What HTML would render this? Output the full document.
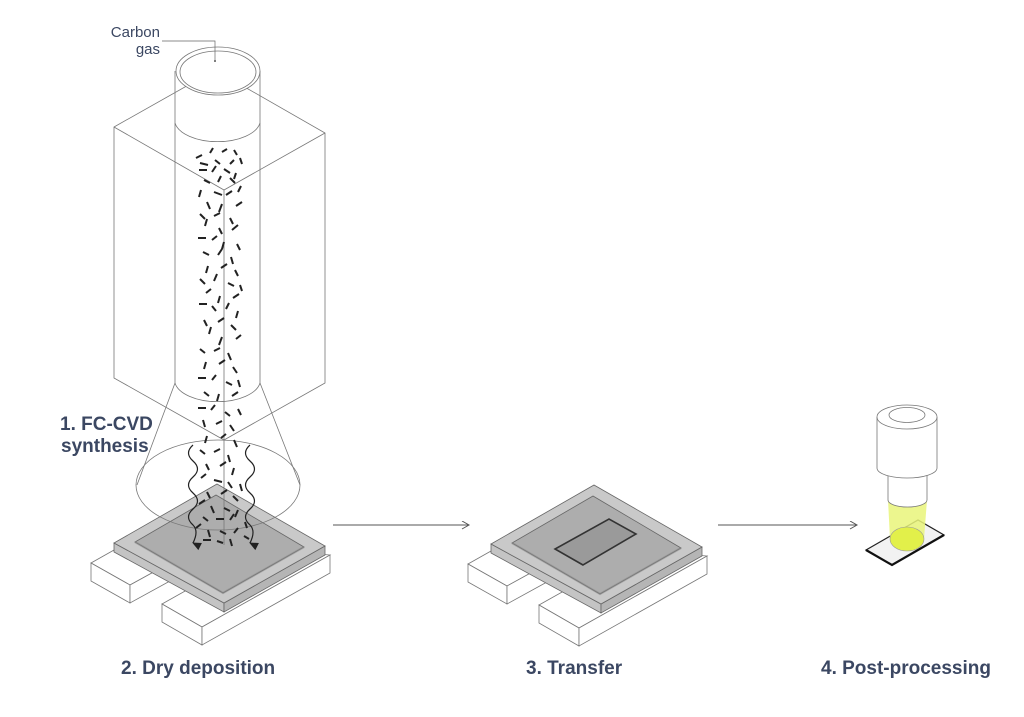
<!DOCTYPE html>
<html><head><meta charset="utf-8"><style>
html,body{margin:0;padding:0;background:#fff;}
svg{display:block;}
text{font-family:"Liberation Sans",sans-serif;fill:#3b4762;}
.b{font-weight:bold;font-size:19px;}
</style></head><body>
<svg width="1024" height="717" viewBox="0 0 1024 717" xmlns="http://www.w3.org/2000/svg">
<defs>
<marker id="ah" markerWidth="10" markerHeight="10" refX="8" refY="4" orient="auto" markerUnits="userSpaceOnUse">
<path d="M1 0 L8 4 L1 8" fill="none" stroke="#555" stroke-width="1"/></marker>
<marker id="ab" markerWidth="10" markerHeight="10" refX="4" refY="8" orient="auto-start-reverse" markerUnits="userSpaceOnUse">
<path d="M0 0 L4 9 L8 0 Z" fill="#222"/></marker>
<g id="stage">
 <polygon points="91,563 130,541 170,563 130,585" fill="#fff" stroke="#777" stroke-width="0.8"/>
 <polygon points="91,563 130,585 130,603 91,581" fill="#fff" stroke="#777" stroke-width="0.8"/>
 <polygon points="130,585 170,563 170,581 130,603" fill="#fff" stroke="#777" stroke-width="0.8"/>
 <polygon points="162,604 260,549 330,555 202,627" fill="#fff" stroke="#777" stroke-width="0.8"/>
 <polygon points="162,604 202,627 202,645 162,622" fill="#fff" stroke="#777" stroke-width="0.8"/>
 <polygon points="202,627 330,555 330,573 202,645" fill="#fff" stroke="#777" stroke-width="0.8"/>
 <polygon points="114,543 224,603 224,612 114,552" fill="#c4c4c4" stroke="#666" stroke-width="0.8"/>
 <polygon points="224,603 325,546 325,555 224,612" fill="#b5b5b5" stroke="#666" stroke-width="0.8"/>
 <polygon points="217,484 325,546 224,603 114,543" fill="#c9c9c9" stroke="#666" stroke-width="0.8"/>
 <polygon points="216,495 304,547 223,593 135,542" fill="#adadad" stroke="#666" stroke-width="0.8"/>
 <polyline points="135,542 223,593 304,547" fill="none" stroke="#888" stroke-width="2.2" opacity="0.5"/>
</g>
</defs>

<use href="#stage"/>
<use href="#stage" transform="translate(377,1)"/>
<polygon points="583,565 555,549 609,519 636,534" fill="#9a9a9a" stroke="#333" stroke-width="1.6"/>

<g fill="none" stroke="#777" stroke-width="0.8">
 <polyline points="215,70 114,127 114,378 224,440 325,383 325,133 215,70"/>
 <polyline points="114,127 224,190 325,133"/>
 <line x1="224" y1="190" x2="224" y2="545"/>
</g>
<g fill="none" stroke="#777" stroke-width="0.8">
 <path d="M175 383 V71 M260 71 V383"/>
 <ellipse cx="218" cy="71" rx="42" ry="24" fill="#fff"/>
 <ellipse cx="218" cy="72" rx="38" ry="21"/>
 <path d="M175 123 A43 22 0 0 0 260 123"/>
 <path d="M175 383 A43 22 0 0 0 260 383"/>
 <line x1="175" y1="383" x2="137" y2="485"/>
 <line x1="260" y1="383" x2="300" y2="485"/>
 <ellipse cx="218" cy="485" rx="82" ry="45"/>
</g>
<text x="160" y="37" font-size="15" text-anchor="end">Carbon</text>
<text x="160" y="54" font-size="15" text-anchor="end">gas</text>
<polyline points="162,41 215,41 215,60" fill="none" stroke="#666" stroke-width="0.7"/>
<circle cx="215" cy="61" r="1" fill="#555"/>

<path stroke="#222" stroke-width="2" fill="none" d="
M196 158l6 -3 M210 153l3 -5 M222 152l5 -3 M234 150l3 5 M200 163l8 2 M215 160l5 4 M230 164l4 -4 M240 158l2 6
M199 170l8 0 M212 172l4 -6 M224 169l6 4 M236 173l-2 6 M204 180l6 3 M218 182l3 -6 M230 178l5 5
M201 190l-2 7 M214 192l8 3 M226 195l6 -4 M238 192l3 -6 M207 202l3 7 M222 204l-3 8 M236 206l6 -4
M200 214l5 5 M214 216l6 -3 M230 218l3 6 M205 226l2 -7 M219 228l3 6 M232 230l6 -5 M198 238l8 0
M212 240l5 -4 M224 242l-2 7 M237 244l3 6 M203 252l6 3 M218 255l4 -6 M231 257l2 7 M208 266l-2 7
M221 268l6 -4 M235 270l3 6 M200 279l5 5 M214 281l3 -7 M228 283l6 3 M240 285l2 6 M206 293l5 -4
M220 296l-2 7 M233 298l6 -4 M199 304l8 0 M212 306l4 5 M226 309l3 -6 M238 311l-2 7 M204 320l3 6
M218 322l6 -4 M231 325l5 5 M209 334l2 -7 M222 337l-3 8 M236 339l5 -4 M200 349l5 4 M214 351l6 -3
M228 353l3 7 M206 362l-2 7 M219 364l6 -4 M233 367l4 6 M198 378l8 0 M212 380l4 -5 M226 382l6 3
M238 380l2 7 M204 392l5 4 M219 394l-2 7 M232 396l6 -4 M198 408l8 0 M211 410l4 -5 M225 412l5 4
M238 409l3 6 M203 420l2 7 M216 424l6 -3 M230 425l4 6 M207 436l-2 7 M221 438l5 -4 M234 440l3 7
M200 450l5 4 M214 452l6 -3 M228 455l2 7 M206 464l3 6 M220 466l6 -4 M234 468l-2 7 M201 478l5 -4
M214 480l8 2 M228 482l4 6 M240 484l2 7 M207 492l3 6 M221 494l6 -4 M233 496l5 5 M199 504l6 -4
M211 506l3 7 M224 508l6 3 M238 510l-3 7 M203 517l5 4 M216 519l8 0 M230 520l4 -6 M245 522l2 6
M196 528l5 -4 M208 530l2 7 M220 531l6 3 M234 533l4 -5 M203 540l8 0 M217 541l6 2 M230 539l2 7 M244 536l5 3"/>
<path d="M193 445 q-9 8 0 16 q9 8 0 16 q-9 8 0 16 q9 8 0 16 q-9 8 0 16 q6 6 0 18" fill="none" stroke="#222" stroke-width="1.2" marker-end="url(#ab)"/>
<path d="M250 445 q-9 8 0 16 q9 8 0 16 q-9 8 0 16 q9 8 0 16 q-9 8 0 16 q6 6 0 18" fill="none" stroke="#222" stroke-width="1.2" marker-end="url(#ab)"/>

<line x1="333" y1="525" x2="469" y2="525" stroke="#555" stroke-width="0.9" marker-end="url(#ah)"/>
<line x1="718" y1="525" x2="857" y2="525" stroke="#555" stroke-width="0.9" marker-end="url(#ah)"/>

<polygon points="866,550 918,520 944,535 892,565" fill="#f2f2f2" stroke="#222" stroke-width="1.2"/>
<polyline points="866,550 892,565 944,535" fill="none" stroke="#111" stroke-width="2.2"/>
<polygon points="888,500 927,500 924,539 890,539" fill="#e9f47a" opacity="0.85"/>
<ellipse cx="907" cy="539" rx="17" ry="12" fill="#e2f04a" stroke="#999" stroke-width="0.6"/>
<g fill="#fff" stroke="#777" stroke-width="0.8">
 <path d="M888 468 V500 A19.5 7 0 0 0 927 500 V468"/>
 <path d="M877 417 V468 A30 10 0 0 0 937 468 V417"/>
 <ellipse cx="907" cy="417" rx="30" ry="12"/>
 <ellipse cx="907" cy="415" rx="18" ry="7.5"/>
</g>

<text x="60" y="430" class="b">1. FC-CVD</text>
<text x="61" y="452" class="b">synthesis</text>
<text x="121" y="674" class="b">2. Dry deposition</text>
<text x="526" y="674" class="b">3. Transfer</text>
<text x="821" y="674" class="b">4. Post-processing</text>
</svg>
</body></html>
